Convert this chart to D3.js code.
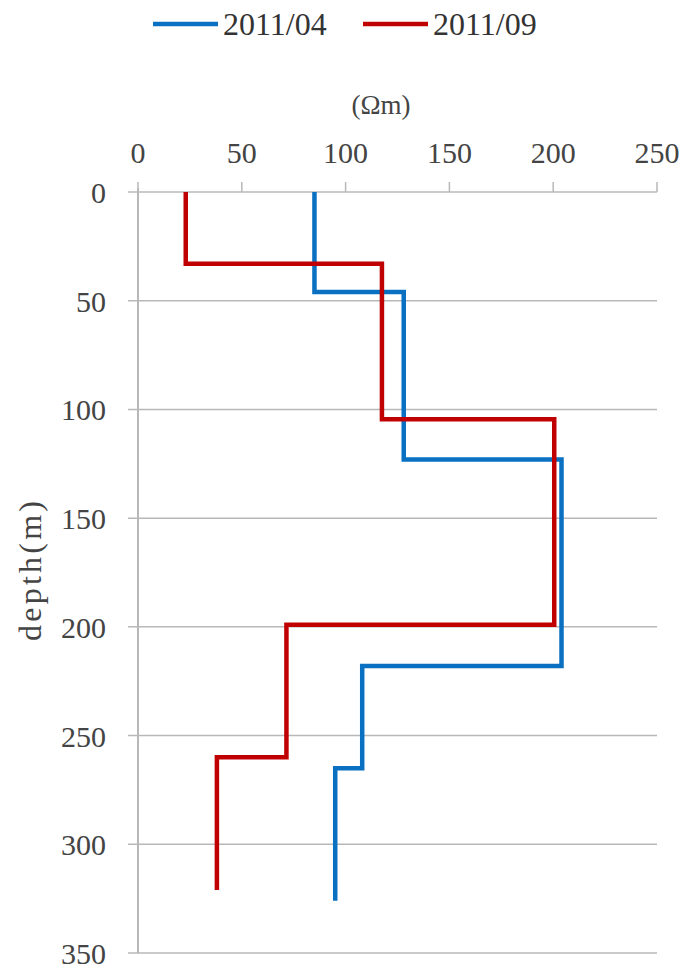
<!DOCTYPE html>
<html><head><meta charset="utf-8">
<script src="https://cdn.jsdelivr.net/npm/d3@7"></script>
<style>body{margin:0;background:#fff}</style>
</head><body>
<svg id="c" width="684" height="972"></svg>
<script>
const seriesNames = ["2011/04", "2011/09"];
const seriesColors = ["#0a70c2", "#c00000"];
// layers: [top depth, bottom depth, resistivity]
const layers0411 = [[0,46,85],[46,123,128],[123,218,204],[218,265,108],[265,326,95]];
const layers0911 = [[0,33,23],[33,104.5,117.5],[104.5,199,200.5],[199,260,71.5],[260,321,38]];
const xTicks = [0,50,100,150,200,250];
const yTicks = [0,50,100,150,200,250,300,350];

const svg = d3.select("#c");
const x = d3.scaleLinear().domain([0,250]).range([138,657]);
const y = d3.scaleLinear().domain([0,350]).range([192,953]);
const font = "'Liberation Serif','DejaVu Serif',serif";
const grid = "#b8b8b8";
const tcol = "#444";

// horizontal gridlines
svg.append("g").selectAll("line").data(yTicks).join("line")
  .attr("x1", 128).attr("x2", x(250))
  .attr("y1", d=>y(d)).attr("y2", d=>y(d))
  .attr("stroke", grid).attr("stroke-width", 1.5);
// y axis line
svg.append("line").attr("x1", x(0)).attr("x2", x(0)).attr("y1", y(0)-4).attr("y2", y(350))
  .attr("stroke", grid).attr("stroke-width", 2);
// top ticks
svg.append("g").selectAll("line").data(xTicks).join("line")
  .attr("x1", d=>x(d)).attr("x2", d=>x(d)).attr("y1", y(0)-10).attr("y2", y(0))
  .attr("stroke", grid).attr("stroke-width", 1.5);

// tick labels
svg.append("g").selectAll("text").data(xTicks).join("text")
  .attr("x", d=>x(d)).attr("y", 163).attr("text-anchor","middle")
  .attr("font-family", font).attr("font-size", 30).attr("fill",tcol).text(d=>d);
svg.append("g").selectAll("text").data(yTicks).join("text")
  .attr("x", 106).attr("y", d=>y(d)+11).attr("text-anchor","end")
  .attr("font-family", font).attr("font-size", 30).attr("fill",tcol).text(d=>d);

svg.append("text").attr("x", 381).attr("y", 114).attr("text-anchor","middle")
  .attr("font-family", font).attr("font-size", 27).attr("fill",tcol).text("(Ωm)");
svg.append("text").attr("transform","translate(41,641) rotate(-90)")
  .attr("font-family", font).attr("font-size", 32).attr("fill",tcol)
  .attr("textLength", 140).attr("lengthAdjust","spacing").text("depth(m)");

function stepPts(layers){
  const pts = [];
  layers.forEach(l=>{ pts.push([l[2], l[0]]); pts.push([l[2], l[1]]); });
  return pts;
}
const line = d3.line().x(d=>x(d[0])).y(d=>y(d[1]));
[layers0411, layers0911].forEach((L,i)=>{
  svg.append("path").attr("d", line(stepPts(L))).attr("fill","none")
    .attr("stroke", seriesColors[i]).attr("stroke-width", 4.5).attr("stroke-linejoin","miter");
});

// legend
const lx = [153, 363];
seriesNames.forEach((n,i)=>{
  svg.append("line").attr("x1", lx[i]).attr("x2", lx[i]+65).attr("y1", 24).attr("y2", 24)
    .attr("stroke", seriesColors[i]).attr("stroke-width", 4.5);
  svg.append("text").attr("x", lx[i]+70).attr("y", 35).attr("font-family", font)
    .attr("font-size", 32).attr("fill","#333").text(n);
});
</script>
</body></html>
